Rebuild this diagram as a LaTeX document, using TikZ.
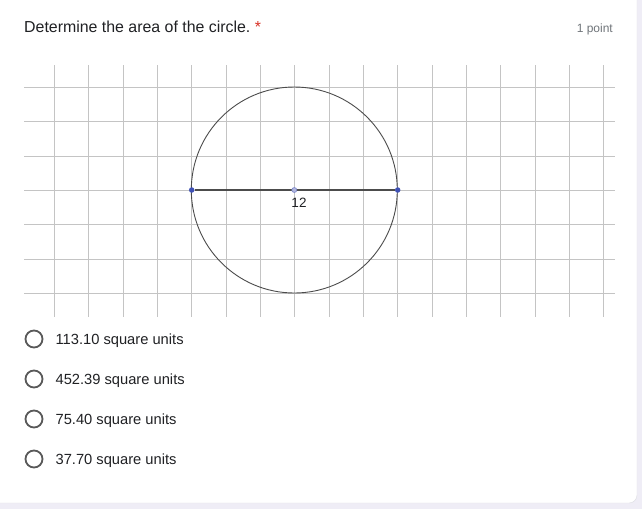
\documentclass[tikz,border=0pt]{standalone}
\usepackage{fontspec}
\setmainfont{Liberation Sans}
\usetikzlibrary{positioning}

\definecolor{pagebg}{HTML}{EFEDF6}
\definecolor{cardedge}{HTML}{DADCE0}
\definecolor{textdark}{HTML}{202124}
\definecolor{textgray}{HTML}{70757A}
\definecolor{reqred}{HTML}{D93025}
\definecolor{gridgray}{HTML}{C4C4C4}
\definecolor{ptblue}{HTML}{3F51B5}
\definecolor{midblue}{HTML}{7C86C8}

\tikzset{
  gridline/.style={draw=gridgray, line width=0.6pt},
  circ/.style={draw=black!70, line width=0.9pt},
  diam/.style={draw=black!70, line width=1.1pt},
  ptdot/.style={circle, fill=ptblue, inner sep=0pt, minimum size=5.5pt},
  middot/.style={circle, fill=midblue!60, draw=midblue, line width=0.6pt, inner sep=0pt, minimum size=5pt},
  radio/.style={circle, draw=black!65, line width=1.8pt, inner sep=0pt, minimum size=17pt},
  opt/.style={font=\fontsize{14.7}{17}\selectfont, text=textdark, inner sep=0pt, yshift=-2pt},
}

\begin{document}
\begin{tikzpicture}[x=1pt, y=-1pt]
\useasboundingbox (0,0) rectangle (642,509);
% card
\fill[pagebg] (0,0) rectangle (642,509);
\filldraw[fill=white, draw=cardedge, rounded corners=8pt] (-10,-10) rectangle (637,503);
% header
\node[anchor=base west, inner sep=0pt, text=textdark, font=\fontsize{15.9}{18}\selectfont] (q) at (24,32) {Determine the area of the circle.};
\node[anchor=base west, inner sep=0pt, text=reqred, font=\fontsize{15.9}{18}\selectfont] (req) at ([xshift=4pt]q.base east) {*};
\node[anchor=base east, inner sep=0pt, text=textgray, font=\fontsize{12}{14}\selectfont] (pts) at (613,32) {1 point};
% grid
\foreach \i in {0,...,16}
  \draw[gridline] (54.3+34.33*\i,65) -- (54.3+34.33*\i,317);
\foreach \j in {0,...,6}
  \draw[gridline] (24,87.3+34.33*\j) -- (615,87.3+34.33*\j);
% circle
\coordinate (c) at (294.3,190);
\draw[circ] (c) circle[radius=103pt];
\node[ptdot] (A) at (191.7,190) {};
\node[ptdot] (B) at (397.7,190) {};
\draw[diam] (A) -- (B);
\node[middot] (M) at (c) {};
\node[font=\fontsize{13.5}{16}\selectfont, text=textdark, inner sep=0pt] (len) at (299,203) {12};
% options
\node[radio] (r1) at (34,339) {};
\node[radio] (r2) at (34,379) {};
\node[radio] (r3) at (34,419) {};
\node[radio] (r4) at (34,459) {};
\node[opt, right=12pt of r1] (t1) {113.10 square units};
\node[opt, right=12pt of r2] (t2) {452.39 square units};
\node[opt, right=12pt of r3] (t3) {75.40 square units};
\node[opt, right=12pt of r4] (t4) {37.70 square units};
\end{tikzpicture}
\end{document}
